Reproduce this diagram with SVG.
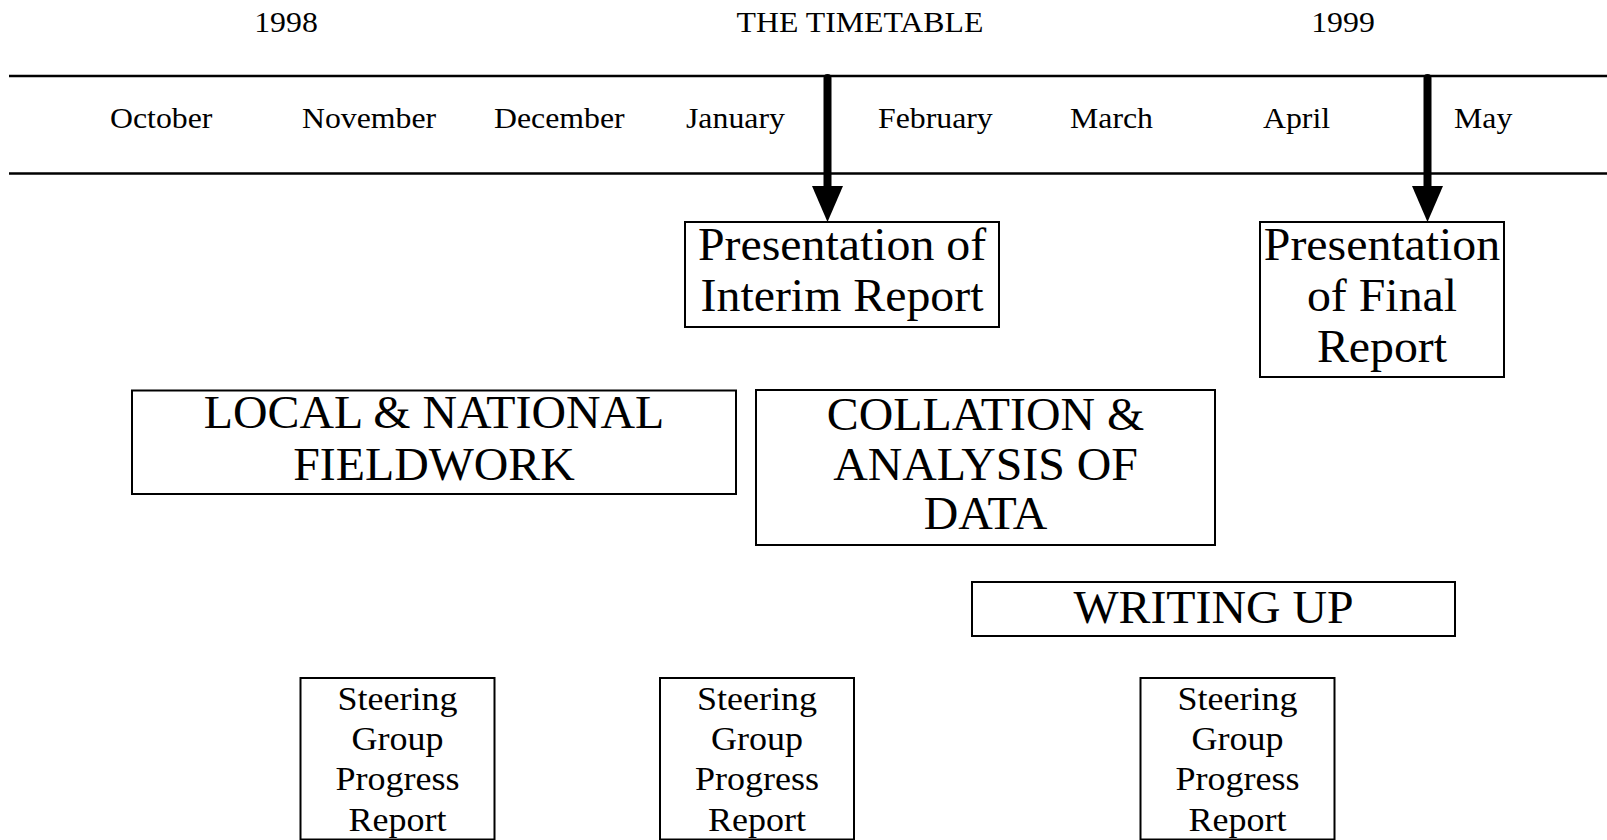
<svg xmlns="http://www.w3.org/2000/svg" width="1607" height="840" viewBox="0 0 1607 840">
<style>
text{font-family:"Liberation Serif","Times New Roman",serif;fill:#000}
.s30{font-size:30px}
.s45{font-size:46px;text-anchor:middle}
.s34{font-size:34px;text-anchor:middle}
.mid{text-anchor:middle}
.box{fill:#fff;stroke:#000;stroke-width:2}
.rule{stroke:#000;stroke-width:2.7}
.shaft{stroke:#000;stroke-width:8;stroke-linecap:round}
</style>
<rect width="1607" height="840" fill="#fff"/>
<g id="header">
<text class="s30 mid" transform="translate(286 0) scale(1.06 1)" x="0" y="32">1998</text>
<text class="s30 mid" transform="translate(860 0) scale(1.06 1)" x="0" y="32">THE TIMETABLE</text>
<text class="s30 mid" transform="translate(1343 0) scale(1.06 1)" x="0" y="32">1999</text>
</g>
<g id="timeline">
<line class="rule" x1="9" y1="76" x2="1607" y2="76"/>
<line class="rule" x1="9" y1="173.5" x2="1607" y2="173.5"/>
<text class="s30" transform="translate(110 0) scale(1.06 1)" x="0" y="128">October</text>
<text class="s30" transform="translate(302 0) scale(1.06 1)" x="0" y="128">November</text>
<text class="s30" transform="translate(494 0) scale(1.06 1)" x="0" y="128">December</text>
<text class="s30" transform="translate(686 0) scale(1.06 1)" x="0" y="128">January</text>
<text class="s30" transform="translate(878 0) scale(1.06 1)" x="0" y="128">February</text>
<text class="s30" transform="translate(1070 0) scale(1.06 1)" x="0" y="128">March</text>
<text class="s30" transform="translate(1263 0) scale(1.06 1)" x="0" y="128">April</text>
<text class="s30" transform="translate(1454 0) scale(1.06 1)" x="0" y="128">May</text>
</g>
<g id="connectors">
<line class="shaft" x1="827.5" y1="78" x2="827.5" y2="190"/>
<polygon points="812,186 843,186 827.5,222"/>
<line class="shaft" x1="1427.5" y1="78" x2="1427.5" y2="190"/>
<polygon points="1412,186 1443,186 1427.5,222"/>
</g>
<g id="interim">
<rect class="box" x="685" y="222" width="314" height="105"/>
<text class="s45" transform="translate(842 0) scale(1.04 1)"><tspan x="0" y="260">Presentation of</tspan><tspan x="0" y="311">Interim Report</tspan></text>
</g>
<g id="final">
<rect class="box" x="1260" y="222" width="244" height="155"/>
<text class="s45" transform="translate(1382 0) scale(1.04 1)"><tspan x="0" y="260">Presentation</tspan><tspan x="0" y="311">of Final</tspan><tspan x="0" y="362">Report</tspan></text>
</g>
<g id="fieldwork">
<rect class="box" x="132" y="390.5" width="604" height="103.5"/>
<text class="s45" transform="translate(434 0) scale(1.04 1)"><tspan x="0" y="428">LOCAL &amp; NATIONAL</tspan><tspan x="0" y="480">FIELDWORK</tspan></text>
</g>
<g id="collation">
<rect class="box" x="756" y="390" width="459" height="155"/>
<text class="s45" transform="translate(985.5 0) scale(1.04 1)"><tspan x="0" y="430">COLLATION &amp;</tspan><tspan x="0" y="480">ANALYSIS OF</tspan><tspan x="0" y="529">DATA</tspan></text>
</g>
<g id="writing">
<rect class="box" x="972" y="582" width="483" height="54"/>
<text class="s45" transform="translate(1213.5 0) scale(1.04 1)" x="0" y="623">WRITING UP</text>
</g>
<g id="steering1">
<rect class="box" x="300.5" y="678" width="194" height="161.5"/>
<text class="s34" transform="translate(397.5 0) scale(1.06 1)"><tspan x="0" y="710">Steering</tspan><tspan x="0" y="750">Group</tspan><tspan x="0" y="790">Progress</tspan><tspan x="0" y="831">Report</tspan></text>
</g>
<g id="steering2">
<rect class="box" x="660" y="678" width="194" height="161.5"/>
<text class="s34" transform="translate(757 0) scale(1.06 1)"><tspan x="0" y="710">Steering</tspan><tspan x="0" y="750">Group</tspan><tspan x="0" y="790">Progress</tspan><tspan x="0" y="831">Report</tspan></text>
</g>
<g id="steering3">
<rect class="box" x="1140.5" y="678" width="194" height="161.5"/>
<text class="s34" transform="translate(1237.5 0) scale(1.06 1)"><tspan x="0" y="710">Steering</tspan><tspan x="0" y="750">Group</tspan><tspan x="0" y="790">Progress</tspan><tspan x="0" y="831">Report</tspan></text>
</g>
</svg>
